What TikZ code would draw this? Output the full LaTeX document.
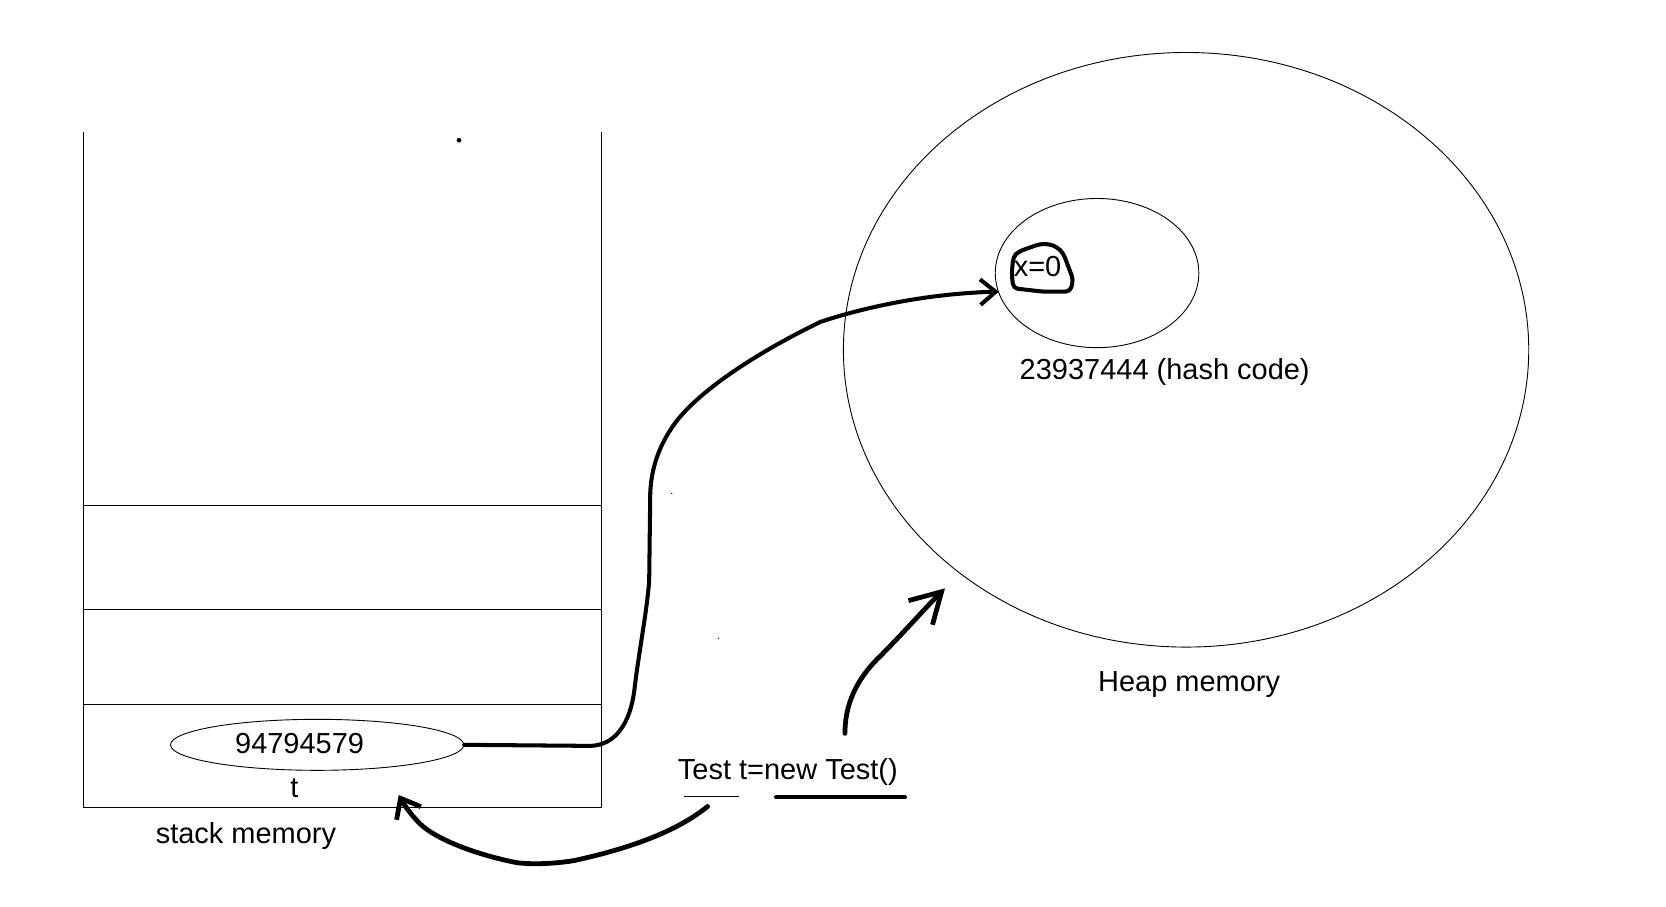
\documentclass[tikz,border=0pt]{standalone}
\usepackage{fontspec}
\setmainfont{Liberation Sans}
\usetikzlibrary{arrows.meta,shapes.geometric}
\definecolor{memInk}{HTML}{000000}
\tikzset{
  every picture/.style={font=\fontsize{19.4}{23}\selectfont, text=memInk},
  mem line/.style={draw=memInk, line width=0.6pt},
  mem oval/.style={ellipse, draw=memInk, line width=0.6pt, inner sep=0pt},
  mem hand/.style={draw=memInk, line width=3.2pt, line cap=round, line join=round},
  mem label/.style={anchor=base, inner sep=0pt}
}
\begin{document}
\begin{tikzpicture}[x=0.25mm,y=-0.25mm]
  \useasboundingbox[fill=white] (0,0) rectangle (1568,853);
  % stack frame
  \draw[mem line] (79,124) -- (79,760) -- (566,760) -- (566,124);
  \foreach \yy in {475.5,573.5,663} \draw[mem line] (79,\yy) -- (566,\yy);
  \node[mem oval, minimum width=69mm, minimum height=12mm] (val) at (298.5,701) {};
  \node[mem label] (valtext) at (282,709.5) {94794579};
  \node[mem label] (tlabel) at (277,750.4) {t};
  \node[mem label] (stacklabel) at (231.5,794) {stack memory};
  % heap
  \node[mem oval, minimum width=161.25mm, minimum height=139.9mm] (heap) at (1116.3,329.2) {};
  \node[mem oval, minimum width=47.9mm, minimum height=35.1mm] (obj) at (1032.5,257) {};
  \node[mem label] (xval) at (976.5,260.5) {x=0};
  \node[mem label] (hash) at (1096.2,356.7) {23937444 (hash code)};
  \node[mem label] (heaplabel) at (1119.2,651) {Heap memory};
  % code line
  \node[mem label] (code) at (741.5,734) {Test t=new Test()};
  \draw[mem line] (644,749.2) -- (695.5,749.2);
  \draw[mem hand, line width=2.7pt] (730.4,750.4) -- (851.8,750.4);
  \coordinate (ref) at (940,274.5);
  \coordinate (newstart) at (795.3,690.2);
  \coordinate (newend) at (889.4,553.7);
  \coordinate (asgstart) at (666,759);
  \coordinate (asgend) at (375.3,748.2);
  % specks
  \fill[memInk] (432,132) circle (2.2);
  \fill[memInk] (632.2,464.3) circle (0.7);
  \fill[memInk] (676.1,600.8) circle (0.7);
  % hand drawn marks
  \draw[mem hand, line width=2.7pt, rounded corners=3]
    (953.7,241.6) -- (958.4,236.9) -- (978.8,229.6) -- (986.7,229.6)
    -- (994.5,232.2) -- (1000.8,238.4) -- (1005.5,251) -- (1010.2,263.5)
    -- (1007.1,274.5) -- (981.9,274.5) -- (953.7,271.3) -- (952.2,257.2) -- cycle;
  \draw[mem hand, line width=2.7pt, -{Straight Barb[length=3.6mm,width=6mm]}]
    (val.east) -- (556,702)
    .. controls (580,701) and (593,680) .. (597,650)
    .. controls (601,615) and (609,575) .. (611,546)
    -- (612,464)
    .. controls (613,438) and (622,418) .. (632,403)
    .. controls (650,375) and (700,338) .. (772,303)
    .. controls (820,287) and (880,276) .. (ref);
  \draw[mem hand, -{Straight Barb[length=7mm,width=8mm]}] (newstart)
    .. controls (795,665) and (805,640) .. (828,618)
    .. controls (850,596) and (870,573) .. (newend);
  \draw[mem hand, -{Straight Barb[length=4mm,width=6.5mm]}] (asgstart)
    .. controls (640,780) and (600,797) .. (540,810)
    .. controls (515,814) and (495,813) .. (487,812)
    .. controls (450,805) and (410,790) .. (395,775)
    .. controls (385,765) and (379,755) .. (asgend);
\end{tikzpicture}
\end{document}
